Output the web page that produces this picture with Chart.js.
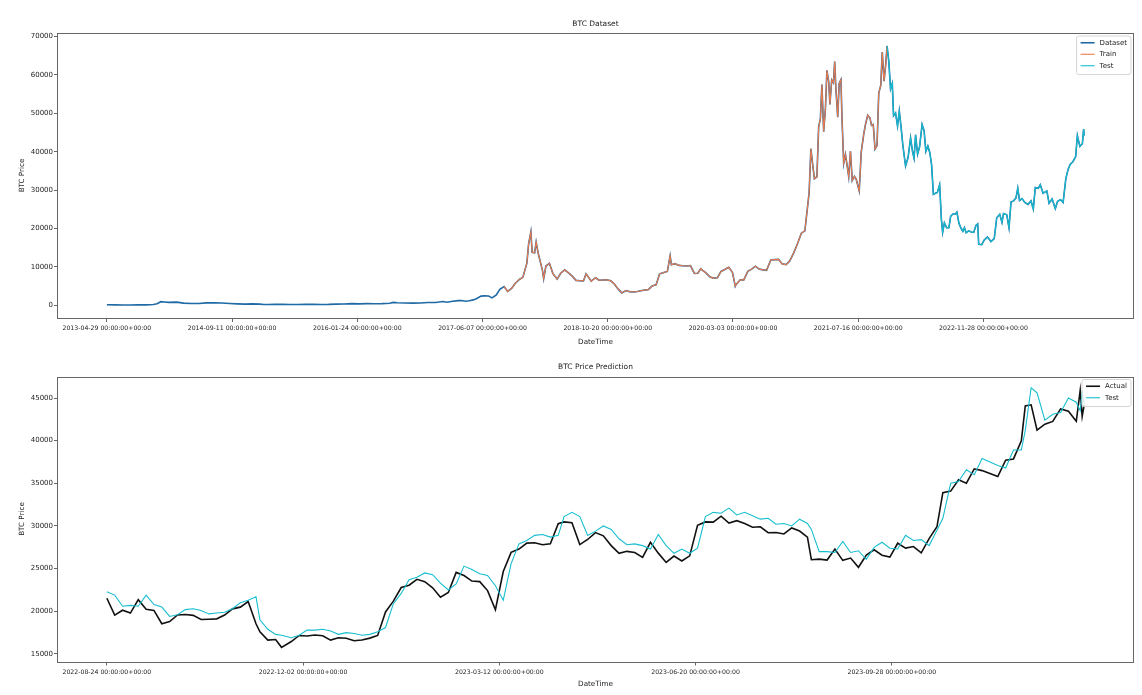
<!DOCTYPE html>
<html>
<head>
<meta charset="utf-8">
<title>BTC Dataset / BTC Price Prediction</title>
<script src="https://cdn.jsdelivr.net/npm/chart.js@4.4.1/dist/chart.umd.min.js"></script>
<style>
  html, body { margin: 0; padding: 0; background: #fff; }
  #wrap { position: relative; width: 1142px; height: 695px; }
  canvas { position: absolute; left: 0; }
  #datasetChart { top: 0; }
  #predictionChart { top: 350px; }
</style>
</head>
<body>
<div id="wrap">
  <canvas id="datasetChart" width="1142" height="350"></canvas>
  <canvas id="predictionChart" width="1142" height="345"></canvas>
</div>
<script>
/* Data: full BTC close series (top chart) */
const btcDates = [
  "2013-04-29","2013-06-01","2013-07-01","2013-08-01","2013-09-01","2013-10-01","2013-11-01","2013-11-15","2013-12-01","2013-12-15",
  "2014-01-01","2014-02-01","2014-03-01","2014-04-01","2014-05-01","2014-06-01","2014-07-01","2014-08-01","2014-09-01","2014-10-01","2014-11-01","2014-12-01",
  "2015-01-01","2015-01-15","2015-02-01","2015-03-01","2015-04-01","2015-05-01","2015-06-01","2015-07-01","2015-08-01","2015-09-01","2015-10-01","2015-11-01","2015-12-01",
  "2016-01-01","2016-02-01","2016-03-01","2016-04-01","2016-05-01","2016-06-01","2016-06-16","2016-07-01","2016-08-01","2016-09-01","2016-10-01","2016-11-01","2016-12-01",
  "2017-01-01","2017-01-15","2017-02-01","2017-03-01","2017-03-15","2017-04-01","2017-04-15","2017-05-01","2017-05-15","2017-06-01","2017-06-15","2017-07-01","2017-07-15","2017-08-01","2017-08-15","2017-09-01","2017-09-15","2017-10-01","2017-10-15","2017-11-01","2017-11-15","2017-12-01","2017-12-08","2017-12-17","2017-12-22",
  "2018-01-01","2018-01-07","2018-01-15","2018-02-01","2018-02-06","2018-02-15","2018-03-01","2018-03-15","2018-04-01","2018-04-15","2018-05-01","2018-05-15","2018-06-01","2018-06-15","2018-07-01","2018-07-15","2018-07-25","2018-08-01","2018-08-15","2018-09-01","2018-09-15","2018-10-01","2018-10-15","2018-11-01","2018-11-15","2018-12-01","2018-12-15",
  "2019-01-01","2019-01-15","2019-02-01","2019-02-15","2019-03-01","2019-03-15","2019-04-01","2019-04-15","2019-05-01","2019-05-15","2019-06-01","2019-06-15","2019-06-26","2019-07-01","2019-07-15","2019-08-01","2019-08-15","2019-09-01","2019-09-15","2019-10-01","2019-10-15","2019-10-26","2019-11-01","2019-11-15","2019-12-01","2019-12-15",
  "2020-01-01","2020-01-15","2020-02-01","2020-02-15","2020-03-01","2020-03-12","2020-03-15","2020-04-01","2020-04-15","2020-05-01","2020-05-15","2020-06-01","2020-06-15","2020-07-01","2020-07-15","2020-08-01","2020-08-15","2020-09-01","2020-09-15","2020-10-01","2020-10-15","2020-11-01","2020-11-15","2020-12-01","2020-12-15",
  "2021-01-01","2021-01-08","2021-01-15","2021-01-22","2021-02-01","2021-02-08","2021-02-15","2021-02-21","2021-02-28","2021-03-07","2021-03-13","2021-03-20","2021-03-25","2021-04-01","2021-04-08","2021-04-13","2021-04-18","2021-04-25","2021-05-01","2021-05-08","2021-05-12","2021-05-19","2021-05-26","2021-06-01","2021-06-08","2021-06-15","2021-06-22","2021-07-01","2021-07-08","2021-07-20","2021-07-28","2021-08-07","2021-08-14","2021-08-23","2021-09-01","2021-09-07","2021-09-14","2021-09-21","2021-09-29","2021-10-06","2021-10-14","2021-10-20","2021-10-27","2021-11-03","2021-11-08","2021-11-15","2021-11-22","2021-11-29","2021-12-04","2021-12-12","2021-12-20","2021-12-27",
  "2022-01-03","2022-01-10","2022-01-21","2022-01-31","2022-02-10","2022-02-18","2022-02-24","2022-03-02","2022-03-10","2022-03-18","2022-03-28","2022-04-05","2022-04-12","2022-04-20","2022-04-28","2022-05-05","2022-05-12","2022-05-20","2022-05-28","2022-06-06","2022-06-13","2022-06-18","2022-06-25","2022-07-04","2022-07-13","2022-07-20","2022-07-29","2022-08-08","2022-08-14","2022-08-22","2022-08-31","2022-09-07","2022-09-13","2022-09-20","2022-09-30","2022-10-10","2022-10-20","2022-10-29","2022-11-05","2022-11-09","2022-11-21","2022-12-01","2022-12-14","2022-12-28",
  "2023-01-10","2023-01-20","2023-02-01","2023-02-10","2023-02-16","2023-03-01","2023-03-10","2023-03-18","2023-03-28","2023-04-07","2023-04-14","2023-04-21","2023-05-01","2023-05-12","2023-05-25","2023-06-06","2023-06-15","2023-06-23","2023-07-05","2023-07-13","2023-07-24","2023-08-08","2023-08-17","2023-08-29","2023-09-11","2023-09-20","2023-10-02","2023-10-12","2023-10-23","2023-11-01","2023-11-09","2023-11-20","2023-12-01","2023-12-08","2023-12-18","2023-12-28","2024-01-02","2024-01-04"
];
const btcClose = [
  144,129,88,105,138,125,206,420,955,870,
  770,830,565,480,460,630,640,590,475,385,325,380,
  315,210,225,260,245,232,225,258,280,228,238,325,362,
  434,372,435,417,451,536,765,676,607,572,616,731,756,
  998,820,989,1222,1245,1080,1180,1420,1770,2400,2460,2430,1930,2710,4180,4890,3640,4400,5700,6740,7300,10980,16000,19140,13800,
  13660,16500,13600,9170,6950,10230,10950,8260,6840,8360,9250,8500,7540,6500,6390,6360,8200,7600,6300,7190,6540,6600,6640,6380,5560,4210,3240,
  3840,3570,3490,3620,3820,3960,4140,5030,5350,8200,8570,8830,12900,10580,10860,10400,10310,10230,10360,8310,8350,9550,9200,8500,7420,7100,
  7200,8820,9390,9900,8560,4970,5400,6640,6640,8860,9380,10200,9450,9230,9130,11800,11910,11970,10800,10620,11500,13740,15960,18800,19400,
  29370,40800,36800,33000,33500,46400,48700,57500,45200,51200,61200,58300,52300,58700,58000,63500,56200,49000,57800,58800,49100,37000,39300,36700,33500,40200,32500,33600,32800,29800,39900,44600,47100,49500,48800,46900,47100,40700,41600,55300,57300,65990,58400,62900,67570,63600,56400,57800,49400,50100,46700,50600,
  46500,41800,36300,38500,43600,40000,38300,44400,39400,41300,47100,45500,40100,41500,39700,36600,28900,29200,29400,31400,22500,19000,21500,20200,20200,23200,23800,23800,24300,21400,20000,19300,20200,18900,19400,19100,19000,20800,21200,15900,15800,17000,17800,16600,
  17400,22800,23700,21600,23900,23600,20200,26900,27200,28000,30500,27300,27800,26800,26300,27200,25100,30700,30500,31400,29200,29800,26600,27700,25200,27100,27500,26800,33000,35400,36700,37400,38700,44200,41400,42100,45900,44200
];
const trainFrom = "2017-09-01";
const testFrom = "2021-11-08";

// x tick labels of the top chart sit every 500 rows
const datasetTickRows = [0, 500, 1000, 1500, 2000, 2500, 3000, 3500];
const datasetTickLabels = [
  "2013-04-29 00:00:00+00:00", "2014-09-11 00:00:00+00:00", "2016-01-24 00:00:00+00:00", "2017-06-07 00:00:00+00:00",
  "2018-10-20 00:00:00+00:00", "2020-03-03 00:00:00+00:00", "2021-07-16 00:00:00+00:00", "2022-11-28 00:00:00+00:00"
];
const datasetPriceTicks = [0, 10000, 20000, 30000, 40000, 50000, 60000, 70000];

/* Data: test window, actual vs predicted (bottom chart) */
const predDates = [
  "2022-08-24","2022-08-28","2022-09-01","2022-09-05","2022-09-09","2022-09-13","2022-09-17","2022-09-21","2022-09-25","2022-09-29",
  "2022-10-03","2022-10-07","2022-10-11","2022-10-15","2022-10-19","2022-10-23","2022-10-27","2022-10-31",
  "2022-11-04","2022-11-08","2022-11-10","2022-11-14","2022-11-18","2022-11-21","2022-11-26","2022-11-30",
  "2022-12-04","2022-12-08","2022-12-12","2022-12-16","2022-12-20","2022-12-24","2022-12-28",
  "2023-01-01","2023-01-05","2023-01-09","2023-01-13","2023-01-17","2023-01-21","2023-01-25","2023-01-29",
  "2023-02-02","2023-02-06","2023-02-10","2023-02-14","2023-02-18","2023-02-22","2023-02-26",
  "2023-03-02","2023-03-06","2023-03-10","2023-03-14","2023-03-18","2023-03-22","2023-03-26","2023-03-30",
  "2023-04-03","2023-04-07","2023-04-11","2023-04-14","2023-04-18","2023-04-22","2023-04-26","2023-04-30",
  "2023-05-04","2023-05-08","2023-05-12","2023-05-16","2023-05-20","2023-05-24","2023-05-28",
  "2023-06-01","2023-06-05","2023-06-09","2023-06-13","2023-06-17","2023-06-21","2023-06-25","2023-06-29",
  "2023-07-03","2023-07-07","2023-07-11","2023-07-15","2023-07-19","2023-07-23","2023-07-27","2023-07-31",
  "2023-08-04","2023-08-08","2023-08-12","2023-08-16","2023-08-18","2023-08-22","2023-08-26","2023-08-30",
  "2023-09-03","2023-09-07","2023-09-11","2023-09-15","2023-09-19","2023-09-23","2023-09-27",
  "2023-10-01","2023-10-05","2023-10-09","2023-10-13","2023-10-17","2023-10-21","2023-10-24","2023-10-28",
  "2023-11-01","2023-11-05","2023-11-09","2023-11-13","2023-11-17","2023-11-21","2023-11-25","2023-11-29",
  "2023-12-03","2023-12-05","2023-12-08","2023-12-11","2023-12-15","2023-12-19","2023-12-23","2023-12-27","2023-12-31","2024-01-02","2024-01-03","2024-01-04"
];
const predActual = [
  21530,19550,20130,19790,21370,20230,20110,18550,18800,19570,
  19620,19530,19040,19070,19120,19560,20290,20490,
  21150,18540,17590,16620,16700,15780,16460,17170,
  17110,17230,17130,16630,16900,16840,16550,
  16630,16860,17180,19930,21190,22790,23060,23750,
  23470,22760,21650,22200,24560,24190,23550,
  23480,22430,20190,24670,26910,27300,27990,28030,
  27810,27920,30270,30480,30390,27820,28420,29230,
  28850,27700,26800,27030,26890,26330,28080,
  26820,25730,26480,25900,26500,30080,30480,30450,
  31150,30350,30620,30300,29860,29910,29210,29230,
  29070,29770,29410,28700,26050,26120,26010,27300,
  25970,26240,25160,26600,27210,26580,26350,
  27980,27410,27590,26860,28520,29910,33900,34090,
  35420,35010,36700,36490,36160,35800,37720,37860,
  39980,44080,44200,41240,41930,42260,43720,43440,42270,45900,42850,44180
];
const predTest = [
  22300,21900,20600,20700,20600,21900,20800,20500,19400,19600,
  20200,20300,20100,19700,19800,19900,20300,21000,
  21300,21700,19000,17900,17300,17200,16900,17200,
  17800,17800,17900,17700,17300,17500,17400,
  17200,17300,17600,18100,20900,22100,23700,24000,
  24500,24300,23300,22500,23200,25300,24900,
  24400,24200,23000,21300,25600,27900,28300,28900,
  29000,28700,28900,31100,31600,31100,28900,29400,
  30000,29600,28500,27800,27900,27700,27300,
  29000,27700,26800,27300,26800,27400,31100,31600,
  31500,32100,31300,31600,31200,30800,30900,30200,
  30300,30000,30800,30300,29600,27000,27000,26900,
  28200,26900,27100,26100,27500,28100,27400,
  27300,28900,28300,28400,27700,29500,30900,35000,
  35200,36600,36000,37900,37500,37100,36800,38900,
  38900,41200,46200,45600,42400,43100,43300,45000,44500,43500,45600,44300
];

// x tick labels of the bottom chart sit every 100 rows
const predTickRows = [0, 100, 200, 300, 400];
const predTickLabels = [
  "2022-08-24 00:00:00+00:00", "2022-12-02 00:00:00+00:00", "2023-03-12 00:00:00+00:00",
  "2023-06-20 00:00:00+00:00", "2023-09-28 00:00:00+00:00"
];
const predPriceTicks = [15000, 20000, 25000, 30000, 35000, 40000, 45000];

/* Helpers */
Chart.defaults.font.family = '"DejaVu Sans", sans-serif';
Chart.defaults.color = "#222";

const DAY_MS = 86400000;
function rowOf(dateStr, startStr) {
  return Math.round((Date.parse(dateStr) - Date.parse(startStr)) / DAY_MS);
}

// Draws the matplotlib-like box around the plot and the legend inside the upper right corner.
const frameLegendPlugin = {
  id: "frameLegend",
  afterDatasetsDraw(chart) {
    const ctx = chart.ctx;
    const a = chart.chartArea;
    ctx.save();
    ctx.strokeStyle = "#666";
    ctx.lineWidth = 1;
    ctx.strokeRect(Math.round(a.left) - 0.5, Math.round(a.top) + 0.5, Math.round(a.right - a.left) + 1, Math.round(a.bottom - a.top));

    const sets = chart.data.datasets;
    ctx.font = '7px "DejaVu Sans"';
    const textW = Math.max(...sets.map((s) => ctx.measureText(s.label).width));
    const pad = 4, handle = 14, gap = 5, row = 11.5;
    const w = pad + handle + gap + textW + pad;
    const h = pad * 2 + row * sets.length - 4;
    const x0 = a.right - 2 - w;
    const y0 = a.top + 3;
    ctx.fillStyle = "rgba(255,255,255,0.8)";
    ctx.strokeStyle = "#d6d6d6";
    ctx.lineWidth = 1;
    ctx.beginPath();
    if (ctx.roundRect) ctx.roundRect(x0, y0, w, h, 2); else ctx.rect(x0, y0, w, h);
    ctx.fill();
    ctx.stroke();
    sets.forEach((s, i) => {
      const cy = y0 + pad + row * i + row / 2 - 3;
      ctx.strokeStyle = s.borderColor;
      ctx.lineWidth = s.borderWidth;
      ctx.beginPath();
      ctx.moveTo(x0 + pad, cy);
      ctx.lineTo(x0 + pad + handle, cy);
      ctx.stroke();
      ctx.fillStyle = "#222";
      ctx.textBaseline = "middle";
      ctx.textAlign = "left";
      ctx.fillText(s.label, x0 + pad + handle + gap, cy);
    });
    ctx.restore();
  }
};

// Shared option builder for both panels
function buildOptions(cfg) {
  return {
    responsive: false,
    animation: false,
    devicePixelRatio: 1,
    layout: { padding: { left: 0, right: 9, top: 0, bottom: 0 } },
    plugins: {
      legend: { display: false },
      tooltip: { enabled: false },
      title: {
        display: true,
        fullSize: false, // centre over the plot like matplotlib
        text: cfg.title,
        color: "#222",
        font: { size: 7.5, weight: "normal" },
        padding: { top: cfg.titleTop, bottom: cfg.titleBottom }
      }
    },
    scales: {
      x: {
        type: "linear",
        min: cfg.xMin,
        max: cfg.xMax,
        grid: { display: true, drawOnChartArea: false, drawTicks: true, tickLength: 4, color: "#666" },
        border: { display: false },
        ticks: {
          autoSkip: false,
          maxRotation: 0,
          minRotation: 0,
          padding: 3,
          font: { size: 6.2 },
          callback: (value, index) => cfg.xLabels[index]
        },
        afterBuildTicks: (scale) => { scale.ticks = cfg.xTicks.map((v) => ({ value: v })); },
        afterFit: (scale) => { scale.height = cfg.xHeight; },
        title: {
          display: true,
          text: "DateTime",
          font: { size: 7.2 },
          padding: { top: 2, bottom: cfg.xTitleBottom }
        }
      },
      y: {
        type: "linear",
        min: cfg.yMin,
        max: cfg.yMax,
        grid: { display: true, drawOnChartArea: false, drawTicks: true, tickLength: 4, color: "#666" },
        border: { display: false },
        ticks: {
          padding: 1,
          font: { size: 7 },
          callback: (value) => String(value)
        },
        afterBuildTicks: (scale) => { scale.ticks = cfg.yTicks.map((v) => ({ value: v })); },
        afterFit: (scale) => { scale.width = 58; },
        title: {
          display: true,
          text: "BTC Price",
          font: { size: 7.2 },
          padding: { top: 17.5, bottom: 0 }
        }
      }
    }
  };
}

/* Top chart: BTC Dataset with train / test overlays */
const allPoints = btcDates.map((d, i) => ({ x: rowOf(d, btcDates[0]), y: btcClose[i] }));
const trainPoints = allPoints.filter((p, i) => btcDates[i] >= trainFrom && btcDates[i] <= testFrom);
const testPoints = allPoints.filter((p, i) => btcDates[i] >= testFrom);
const lastRow = allPoints[allPoints.length - 1].x;

new Chart(document.getElementById("datasetChart"), {
  type: "line",
  data: {
    datasets: [
      { label: "Dataset", data: allPoints, borderColor: "#1f6aa5", borderWidth: 1.6, pointRadius: 0, tension: 0, order: 2 },
      { label: "Train", data: trainPoints, borderColor: "#ec7a4a", borderWidth: 1.1, pointRadius: 0, tension: 0, order: 1 },
      { label: "Test", data: testPoints, borderColor: "#17becf", borderWidth: 1.1, pointRadius: 0, tension: 0, order: 0 }
    ]
  },
  options: buildOptions({
    title: "BTC Dataset",
    titleTop: 20, titleBottom: 4,
    xMin: -0.05 * lastRow, xMax: lastRow * 1.05,
    xTicks: datasetTickRows, xLabels: datasetTickLabels,
    xHeight: 32, xTitleBottom: 3.7,
    yMin: -3300, yMax: 70940, yTicks: datasetPriceTicks
  }),
  plugins: [frameLegendPlugin]
});

/* Bottom chart: BTC Price Prediction on the test window */
const actualPoints = predDates.map((d, i) => ({ x: rowOf(d, predDates[0]), y: predActual[i] }));
const predictedPoints = predDates.map((d, i) => ({ x: rowOf(d, predDates[0]), y: predTest[i] }));
const predLastRow = actualPoints[actualPoints.length - 1].x;

new Chart(document.getElementById("predictionChart"), {
  type: "line",
  data: {
    datasets: [
      { label: "Actual", data: actualPoints, borderColor: "#111111", borderWidth: 1.6, pointRadius: 0, tension: 0, order: 1 },
      { label: "Test", data: predictedPoints, borderColor: "#17becf", borderWidth: 1.1, pointRadius: 0, tension: 0, order: 0 }
    ]
  },
  options: buildOptions({
    title: "BTC Price Prediction",
    titleTop: 13, titleBottom: 4.5,
    xMin: -0.05 * predLastRow, xMax: predLastRow * 1.05,
    xTicks: predTickRows, xLabels: predTickLabels,
    xHeight: 33.5, xTitleBottom: 6.7,
    yMin: 14120, yMax: 47520, yTicks: predPriceTicks
  }),
  plugins: [frameLegendPlugin]
});
</script>
</body>
</html>
